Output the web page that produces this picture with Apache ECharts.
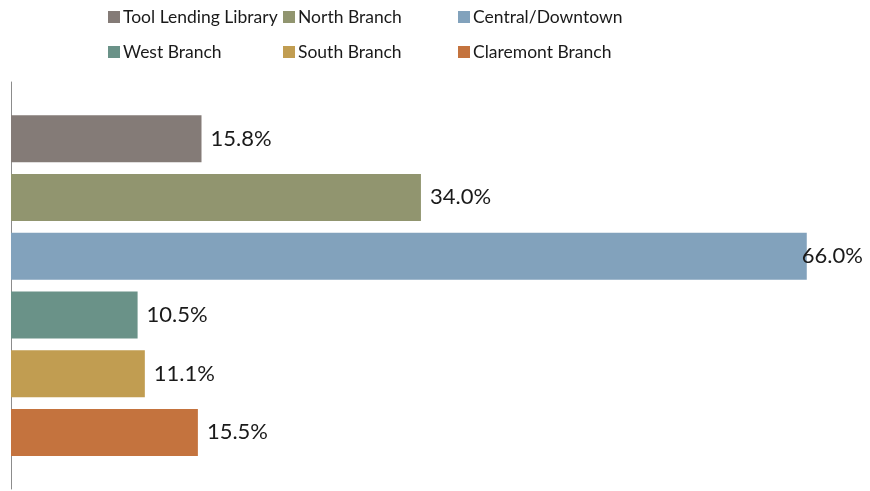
<!DOCTYPE html>
<html>
<head>
<meta charset="utf-8">
<script src="https://cdn.jsdelivr.net/npm/echarts@6/dist/echarts.min.js"></script>
<style>
  html, body { margin: 0; padding: 0; background: #fff; }
  #chart { width: 870px; height: 491px; }
</style>
</head>
<body>
<div id="chart"></div>
<script>
const branches = ['Tool Lending Library', 'North Branch', 'Central/Downtown', 'West Branch', 'South Branch', 'Claremont Branch']
const shares = [15.8, 34.0, 66.0, 10.5, 11.1, 15.5]
const colors = ['#847b77', '#91956f', '#82a2bc', '#6a9288', '#c19d51', '#c4733e']

const font = 'Lato'

const chart = echarts.init(document.getElementById('chart'))

const series = branches.map((name, i) => ({
  name: name,
  type: 'bar',
  data: [shares[i]],
  barWidth: 47,
  barGap: '25%',
  itemStyle: { color: colors[i] },
  label: {
    show: true,
    position: 'right',
    distance: 9,
    // the long bar's label sits partly over the bar end
    offset: shares[i] > 60 ? [-14, 0] : [0, 0],
    formatter: p => p.value.toFixed(1) + '%',
    color: '#1a1a1a',
    fontFamily: font,
    fontSize: 22
  }
}))

// legend laid out as a 3 x 2 grid, one legend box per entry
const legends = branches.map((name, i) => ({
  data: [name],
  left: 108 + (i % 3) * 175,
  top: 8 + Math.floor(i / 3) * 35,
  itemWidth: 12,
  itemHeight: 12,
  icon: 'rect',
  padding: 0,
  textStyle: {
    color: '#1a1a1a',
    fontFamily: font,
    fontSize: 17.5,
    padding: [0, 0, 0, -2]
  }
}))

chart.setOption({
  animation: false,
  color: colors,
  legend: legends,
  grid: {
    left: 11,
    right: 15,
    top: 82,
    bottom: 2,
    containLabel: false
  },
  xAxis: {
    type: 'value',
    min: 0,
    max: 70,
    show: false
  },
  yAxis: {
    type: 'category',
    data: [''],
    axisLine: { lineStyle: { color: '#8c8c8c', width: 1 } },
    axisTick: { show: false },
    axisLabel: { show: false }
  },
  series: series
})
</script>
</body>
</html>
